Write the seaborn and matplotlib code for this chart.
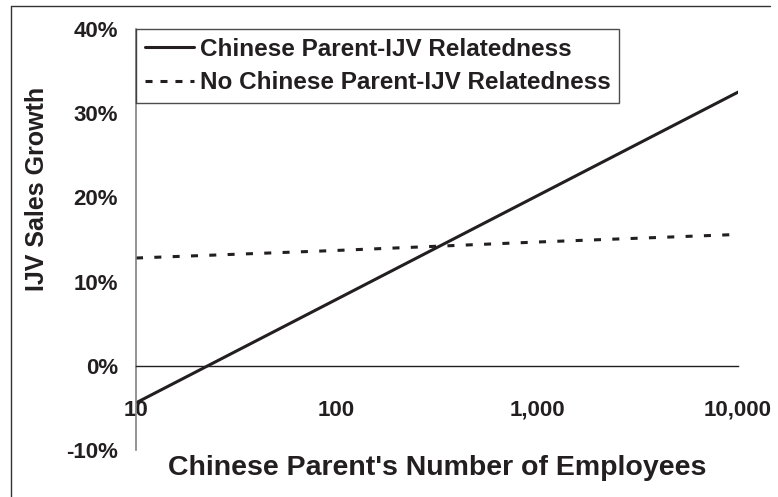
import matplotlib
matplotlib.use("Agg")
import matplotlib.pyplot as plt
from matplotlib.lines import Line2D
from matplotlib.ticker import FixedLocator, FuncFormatter
import seaborn as sns
import pandas as pd

# Predicted IJV sales growth (%) by size of the Chinese parent
employees = [10, 100, 1000, 10000]
growth_related = [-4.4, 7.9, 20.2, 32.5]
growth_unrelated = [12.8, 13.7, 14.7, 15.6]
series_names = ["Chinese Parent-IJV Relatedness", "No Chinese Parent-IJV Relatedness"]
x_ticks = [10, 100, 1000, 10000]
y_ticks = [-10, 0, 10, 20, 30, 40]

df = pd.DataFrame({
    "employees": employees * 2,
    "growth": growth_related + growth_unrelated,
    "series": [series_names[0]] * len(employees) + [series_names[1]] * len(employees),
})

sns.set_theme(style="white")
plt.rcParams["font.family"] = ["Liberation Sans", "DejaVu Sans"]
plt.rcParams["font.weight"] = "bold"
text_color = "#231f20"

fig = plt.figure(figsize=(7.78, 4.97), dpi=100)
W, H = 778, 497
ax = fig.add_axes([136 / W, 1 - 450 / H, (738 - 136) / W, (450 - 29) / H])

dash_styles = {series_names[0]: "", series_names[1]: (2.3, 3.7)}
sns.lineplot(data=df, x="employees", y="growth", style="series", dashes=dash_styles,
             color=text_color, linewidth=2.2, ax=ax, legend=False)

ax.set_xscale("log")
ax.set_xlim(10, 10000)
ax.set_ylim(-10, 40)

ax.xaxis.set_major_locator(FixedLocator(x_ticks))
ax.xaxis.set_minor_locator(FixedLocator([]))
ax.xaxis.set_major_formatter(FuncFormatter(lambda v, p: f"{int(round(v)):,}"))
ax.yaxis.set_major_locator(FixedLocator(y_ticks))
ax.yaxis.set_major_formatter(FuncFormatter(lambda v, p: f"{int(round(v))}%"))

for side in ("top", "right"):
    ax.spines[side].set_visible(False)
ax.spines["bottom"].set_position(("data", 0))
ax.spines["bottom"].set_color(text_color)
ax.spines["bottom"].set_linewidth(1.0)
ax.spines["left"].set_color("#808080")
ax.spines["left"].set_linewidth(1.2)

ax.tick_params(axis="x", which="major", direction="out", length=6.5, width=1.0,
               color=text_color, pad=18, labelsize=16, labelcolor=text_color)
ax.tick_params(axis="y", which="major", direction="out", length=6, width=1.0,
               color="#808080", pad=7, labelsize=16, labelcolor=text_color)
for lbl in ax.get_xticklabels() + ax.get_yticklabels():
    lbl.set_fontweight("bold")

ax.set_xlabel("Chinese Parent's Number of Employees", fontsize=20.5, fontweight="bold",
              color=text_color)
ax.xaxis.set_label_coords(0.5, -0.043)
ax.xaxis.label.set_va("center")
ax.set_ylabel("IJV Sales Growth", fontsize=18, fontweight="bold", color=text_color)
ax.yaxis.set_label_coords(-0.164, 0.62)
ax.yaxis.label.set_va("center")

handles = [
    Line2D([], [], color=text_color, linewidth=2.2, linestyle="-"),
    Line2D([], [], color=text_color, linewidth=2.2, linestyle=(0, (2.3, 2.6))),
]
leg = ax.legend(handles, series_names, loc="upper left", bbox_to_anchor=(0, 1),
                borderaxespad=0, frameon=True, fancybox=False, handlelength=2.05,
                handletextpad=0.22, borderpad=0.35, labelspacing=0.45,
                prop={"family": "Liberation Sans", "weight": "bold", "size": 17.5})
leg.get_frame().set_edgecolor(text_color)
leg.get_frame().set_linewidth(1.0)
for t in leg.get_texts():
    t.set_color(text_color)

# outer chart frame (left and top edges)
fig.add_artist(Line2D([11 / W, 11 / W], [0, 1 - 6 / H], transform=fig.transFigure,
                      color="#333333", linewidth=1.0))
fig.add_artist(Line2D([11 / W, 770 / W], [1 - 6 / H, 1 - 6 / H], transform=fig.transFigure,
                      color="#333333", linewidth=1.0))

fig.savefig("out.png", dpi=100)
